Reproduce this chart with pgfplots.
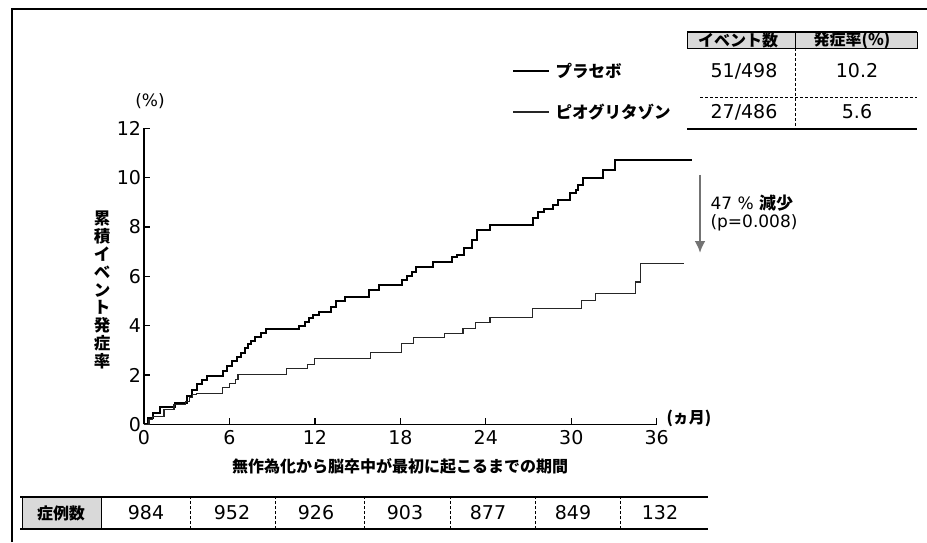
\documentclass[border=0pt]{standalone}
\usepackage{fontspec}
\setmainfont{DejaVu Sans}
\newfontfamily\jp{Noto Sans CJK JP}
\usepackage{pgfplots}
\pgfplotsset{compat=1.18}
\usetikzlibrary{arrows.meta}
\begin{document}
\begin{tikzpicture}
\path[use as bounding box] (0pt,0pt) rectangle (927pt,542pt);
\fill[white] (0pt,0pt) rectangle (927pt,542pt);
% outer frame
\draw[line width=1.2pt] (12pt,0pt) -- (12pt,533pt) -- (927pt,533pt);
\begin{axis}[
  at={(144pt,117.7pt)}, anchor=south west,
  scale only axis, width=512.7pt, height=296pt,
  xmin=0, xmax=36, ymin=0, ymax=12,
  axis lines=left,
  axis line style={line width=1.5pt,-},
  xtick={0,6,...,36}, ytick={0,2,...,12},
  tick align=inside, major tick length=6pt,
  tick style={line width=1.2pt,black},
  ticklabel style={font=\fontsize{19}{19}\selectfont},
  xticklabel style={yshift=-3pt},
  yticklabel style={xshift=0.5pt},
  /pgf/number format/assume math mode=true,
  clip=false,
]
% placebo
\addplot[const plot, line width=2pt, black] coordinates {
(0,0) (0.25,0.27) (0.6,0.45) (1.15,0.7) (2.2,0.88) (3.0,1.15) (3.4,1.4)
(3.7,1.62) (4.1,1.8) (4.4,1.95) (5.55,2.15) (5.8,2.35) (6.15,2.55) (6.5,2.72)
(6.8,2.9) (7.1,3.08) (7.3,3.24) (7.5,3.38) (7.8,3.55) (8.2,3.72) (8.6,3.85)
(10.9,4.0) (11.3,4.15) (11.6,4.3) (11.9,4.45) (12.3,4.55) (13.1,4.75) (13.5,4.98)
(14.1,5.17) (15.8,5.44) (16.5,5.64) (18.1,5.85) (18.5,6.0) (18.8,6.18) (19.1,6.38)
(20.3,6.58) (21.6,6.78) (22.0,6.88) (22.5,7.13) (23.0,7.47) (23.4,7.87) (24.3,8.07)
(27.3,8.35) (27.7,8.6) (28.1,8.72) (28.7,8.9) (29.1,9.09) (29.9,9.36) (30.3,9.5)
(30.5,9.7) (30.8,9.97) (32.2,10.3) (33.1,10.7) (38.5,10.7)
};
% pioglitazone
\addplot[const plot, line width=1.2pt, black!85] coordinates {
(0,0) (0.35,0.2) (0.6,0.33) (1.4,0.6) (2.1,0.8) (2.9,0.94) (3.2,1.08) (3.4,1.2)
(3.7,1.26) (5.5,1.48) (6.0,1.65) (6.4,1.82) (6.6,2.02) (10.0,2.27) (11.5,2.43)
(11.95,2.67) (15.9,2.9) (18.1,3.28) (18.9,3.52) (21.1,3.69) (22.4,3.89) (23.3,4.12)
(24.3,4.34) (27.3,4.7) (30.7,5.03) (31.7,5.31) (34.5,5.77) (34.85,6.52) (37.9,6.52)
};
\end{axis}
% axis texts
\node[font=\fontsize{17}{17}\selectfont] at (150pt,441pt) {(\%)};
\node[font=\jp\bfseries\fontsize{16.5}{17.8}\selectfont, align=center] at (102pt,252pt)
  {累\\積\\イ\\ベ\\ン\\ト\\発\\症\\率};
\node[font=\jp\bfseries\fontsize{16}{16}\selectfont, anchor=west] at (663pt,124pt) {(ヵ月)};
\node[font=\jp\bfseries\fontsize{16}{16}\selectfont] at (400pt,76pt) {無作為化から脳卒中が最初に起こるまでの期間};
% arrow annotation
\draw[line width=2.5pt, black!55, -{Latex[length=12pt,width=11pt]}] (700pt,367pt) -- (700pt,289pt);
\node[font=\fontsize{17}{17}\selectfont, anchor=west] at (707pt,339pt) {47 \% {\jp\bfseries 減少}};
\node[font=\fontsize{17}{17}\selectfont, anchor=west] at (707pt,319pt) {(p=0.008)};
% legend
\draw[line width=2pt] (513pt,471pt) -- (549pt,471pt);
\draw[line width=1.2pt, black!85] (513pt,430pt) -- (549pt,430pt);
\node[font=\jp\bfseries\fontsize{16.5}{16.5}\selectfont, anchor=west] at (552pt,471pt) {プラセボ};
\node[font=\jp\bfseries\fontsize{16.5}{16.5}\selectfont, anchor=west] at (552pt,430pt) {ピオグリタゾン};
% top-right table
\fill[gray!30] (687pt,494pt) rectangle (917pt,510pt);
\draw[line width=0.8pt] (687pt,494pt) rectangle (917pt,510pt);
\draw[line width=1.6pt] (687pt,510pt) -- (917pt,510pt);
\draw[line width=0.6pt, densely dashed] (795pt,494pt) -- (795pt,416pt);
\draw[line width=0.8pt] (795pt,494pt) -- (795pt,510pt);
\node[font=\jp\bfseries\fontsize{16}{16}\selectfont] at (738pt,502pt) {イベント数};
\node[font=\jp\bfseries\fontsize{16}{16}\selectfont] at (852pt,502pt) {発症率(\%)};
\node[font=\fontsize{19}{19}\selectfont] at (744pt,471pt) {51/498};
\node[font=\fontsize{19}{19}\selectfont] at (857pt,471pt) {10.2};
\draw[line width=0.6pt, densely dashed] (700pt,445pt) -- (917pt,445pt);
\node[font=\fontsize{19}{19}\selectfont] at (744pt,430pt) {27/486};
\node[font=\fontsize{19}{19}\selectfont] at (857pt,430pt) {5.6};
\draw[line width=1.6pt] (687pt,413pt) -- (917pt,413pt);
% bottom table
\fill[gray!30] (22pt,14pt) rectangle (101pt,44pt);
\draw[line width=1.6pt] (20pt,45pt) -- (708pt,45pt);
\draw[line width=1.6pt] (20pt,13pt) -- (708pt,13pt);
\draw[line width=0.8pt] (22pt,13pt) -- (22pt,45pt);
\draw[line width=0.8pt] (101pt,13pt) -- (101pt,45pt);
\foreach \xx in {190,275,364,450,535,620} {
  \draw[line width=0.6pt, densely dashed] (\xx pt,13pt) -- (\xx pt,45pt);
}
\node[font=\jp\bfseries\fontsize{16}{16}\selectfont] at (61pt,29pt) {症例数};
\foreach \xx/\vv in {146/984,232/952,316/926,405/903,488/877,573/849,660/132} {
  \node[font=\fontsize{19}{19}\selectfont] at (\xx pt,29pt) {\vv};
}
\end{tikzpicture}
\end{document}
